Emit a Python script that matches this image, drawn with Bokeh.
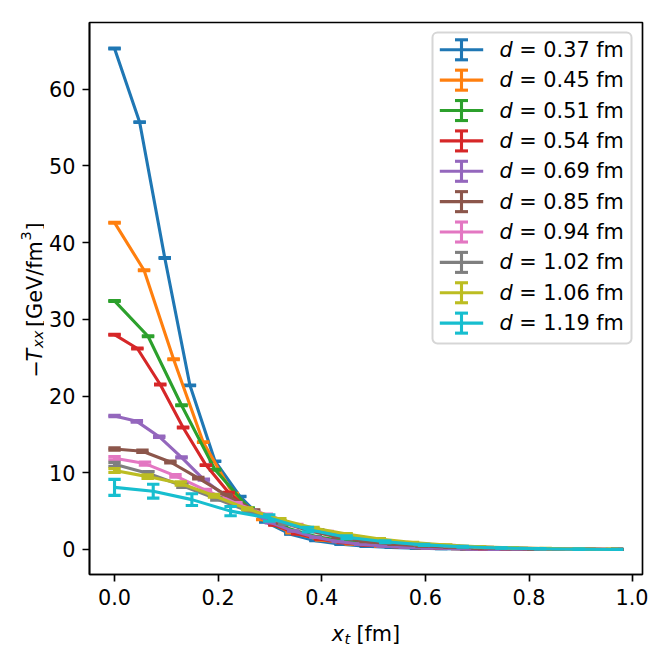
import math
import numpy as np
from bokeh.plotting import figure
from bokeh.layouts import row, column
from bokeh.models import Range1d, FixedTicker, Label, BoxAnnotation, ColumnDataSource
from bokeh.embed import file_html
from bokeh.resources import INLINE

# ---------------- data ----------------
d_values = ["0.37", "0.45", "0.51", "0.54", "0.69", "0.85", "0.94", "1.02", "1.06", "1.19"]
colors = ["#1f77b4", "#ff7f0e", "#2ca02c", "#d62728", "#9467bd",
          "#8c564b", "#e377c2", "#7f7f7f", "#bcbd22", "#17becf"]

x_037 = [0, 0.0485, 0.097, 0.1455, 0.194, 0.2425, 0.291, 0.3395, 0.388, 0.4365, 0.485,
         0.5335, 0.582, 0.6305, 0.679, 0.7275, 0.776, 0.8245, 0.873, 0.9215, 0.97]
y_037 = [65.3, 55.7, 38.0, 21.4, 11.5, 6.9, 3.6, 2.0, 1.15, 0.68, 0.42,
         0.26, 0.17, 0.11, 0.07, 0.05, 0.03, 0.02, 0.01, 0.005, 0.0]
e_037 = [0.05, 0.05, 0.05, 0.05, 0.04, 0.03, 0.03, 0.02, 0.02, 0.02, 0.01,
         0.01, 0.01, 0.01, 0.01, 0.01, 0.01, 0.01, 0.01, 0.01, 0.01]

x_045 = [0, 0.057, 0.114, 0.171, 0.228, 0.285, 0.342, 0.399, 0.456, 0.513, 0.570,
         0.627, 0.684, 0.741, 0.798, 0.855, 0.912, 0.969]
y_045 = [42.6, 36.4, 24.8, 14.0, 7.3, 3.9, 2.2, 1.25, 0.75, 0.45, 0.28,
         0.17, 0.11, 0.07, 0.04, 0.02, 0.01, 0.0]
e_045 = [0.06, 0.06, 0.05, 0.05, 0.04, 0.03, 0.03, 0.02, 0.02, 0.02, 0.01,
         0.01, 0.01, 0.01, 0.01, 0.01, 0.01, 0.01]

x_051 = [0, 0.0647, 0.1293, 0.194, 0.2587, 0.3233, 0.388, 0.4527, 0.5173, 0.582,
         0.6467, 0.7113, 0.776, 0.8407, 0.9053, 0.97]
y_051 = [32.4, 27.8, 18.8, 10.4, 5.4, 3.0, 1.7, 1.0, 0.6, 0.36,
         0.22, 0.14, 0.08, 0.05, 0.02, 0.0]
e_051 = [0.06, 0.06, 0.05, 0.05, 0.04, 0.03, 0.03, 0.02, 0.02, 0.02,
         0.01, 0.01, 0.01, 0.01, 0.01, 0.01]

x_054 = [0, 0.0441, 0.0882, 0.1323, 0.1764, 0.2205, 0.2645, 0.3086, 0.3527, 0.3968,
         0.4409, 0.485, 0.5291, 0.5732, 0.6173, 0.6614, 0.7055, 0.7495, 0.7936,
         0.8377, 0.8818, 0.9259, 0.97]
y_054 = [28.0, 26.2, 21.5, 15.9, 11.0, 7.4, 4.9, 3.2, 2.05, 1.35,
         0.9, 0.6, 0.4, 0.27, 0.18, 0.12, 0.08, 0.05, 0.03,
         0.02, 0.01, 0.005, 0.0]
e_054 = [0.06, 0.06, 0.06, 0.05, 0.05, 0.04, 0.03, 0.03, 0.02, 0.02,
         0.02, 0.01, 0.01, 0.01, 0.01, 0.01, 0.01, 0.01, 0.01,
         0.01, 0.01, 0.01, 0.01]

x_069 = [0, 0.0431, 0.0862, 0.1293, 0.1724, 0.2155, 0.2586, 0.3017, 0.3448, 0.3879,
         0.431, 0.4741, 0.5172, 0.5603, 0.6034, 0.6465, 0.6896, 0.7327, 0.7758,
         0.8189, 0.862, 0.9051, 0.9482]
y_069 = [17.4, 16.7, 14.7, 12.0, 9.1, 6.9, 5.0, 3.5, 2.4, 1.6,
         1.05, 0.7, 0.46, 0.3, 0.2, 0.13, 0.08, 0.05, 0.03,
         0.02, 0.01, 0.005, 0.0]
e_069 = [0.1, 0.1, 0.09, 0.08, 0.07, 0.06, 0.05, 0.04, 0.03, 0.03,
         0.02, 0.02, 0.02, 0.01, 0.01, 0.01, 0.01, 0.01, 0.01,
         0.01, 0.01, 0.01, 0.01]

x_085 = [0, 0.0539, 0.1078, 0.1617, 0.2156, 0.2694, 0.3233, 0.3772, 0.4311, 0.485,
         0.5389, 0.5928, 0.6467, 0.7006, 0.7544, 0.8083, 0.8622, 0.9161, 0.97]
y_085 = [13.1, 12.8, 11.4, 9.3, 7.1, 5.1, 3.5, 2.4, 1.6, 1.05,
         0.7, 0.45, 0.3, 0.19, 0.12, 0.07, 0.04, 0.02, 0.0]
e_085 = [0.15, 0.15, 0.13, 0.11, 0.09, 0.08, 0.06, 0.05, 0.04, 0.03,
         0.03, 0.02, 0.02, 0.02, 0.01, 0.01, 0.01, 0.01, 0.01]

x_094 = [0, 0.0588, 0.1176, 0.1764, 0.2352, 0.294, 0.3528, 0.4116, 0.4704, 0.5292,
         0.588, 0.6468, 0.7056, 0.7644, 0.8232, 0.882, 0.9408]
y_094 = [11.9, 11.2, 9.6, 7.7, 6.0, 4.5, 3.2, 2.3, 1.6, 1.1,
         0.75, 0.5, 0.32, 0.2, 0.12, 0.06, 0.02]
e_094 = [0.2, 0.2, 0.18, 0.15, 0.13, 0.11, 0.09, 0.07, 0.05, 0.04,
         0.03, 0.03, 0.02, 0.02, 0.01, 0.01, 0.01]

x_102 = [0, 0.0655, 0.131, 0.1965, 0.262, 0.3275, 0.393, 0.4585, 0.524, 0.5895,
         0.655, 0.7205, 0.786, 0.8515, 0.917]
y_102 = [11.1, 9.9, 8.3, 6.6, 4.9, 3.4, 2.5, 1.6, 1.0, 0.65,
         0.4, 0.25, 0.14, 0.07, 0.03]
e_102 = [0.25, 0.25, 0.22, 0.18, 0.15, 0.12, 0.1, 0.08, 0.06, 0.05,
         0.04, 0.03, 0.02, 0.02, 0.01]

x_106 = [0, 0.064, 0.128, 0.192, 0.256, 0.32, 0.384, 0.448, 0.512, 0.576,
         0.64, 0.704, 0.768, 0.832, 0.896, 0.96]
y_106 = [10.3, 9.5, 8.6, 7.0, 5.3, 3.9, 2.8, 2.0, 1.35, 0.9,
         0.58, 0.36, 0.22, 0.12, 0.06, 0.02]
e_106 = [0.25, 0.25, 0.22, 0.18, 0.15, 0.12, 0.1, 0.08, 0.06, 0.05,
         0.04, 0.03, 0.02, 0.02, 0.01, 0.01]

x_119 = [0, 0.0747, 0.1493, 0.224, 0.2986, 0.3733, 0.448, 0.5226, 0.5973, 0.672,
         0.7466, 0.8213, 0.896, 0.97]
y_119 = [8.1, 7.6, 6.5, 5.0, 4.1, 2.6, 1.6, 1.0, 0.6, 0.35,
         0.2, 0.1, 0.04, 0.0]
e_119 = [1.04, 0.9, 0.76, 0.6, 0.42, 0.3, 0.2, 0.12, 0.08, 0.05,
         0.03, 0.02, 0.01, 0.01]

series = [(x_037, y_037, e_037), (x_045, y_045, e_045), (x_051, y_051, e_051),
          (x_054, y_054, e_054), (x_069, y_069, e_069), (x_085, y_085, e_085),
          (x_094, y_094, e_094), (x_102, y_102, e_102), (x_106, y_106, e_106),
          (x_119, y_119, e_119)]

x_ticks = [0.0, 0.2, 0.4, 0.6, 0.8, 1.0]
x_tick_labels = ["0.0", "0.2", "0.4", "0.6", "0.8", "1.0"]
y_ticks = [0, 10, 20, 30, 40, 50, 60]

# ---------------- layout (page pixels) ----------------
W = 648
LEFT_W = 44            # strip holding the y label
MAIN_H = 615           # main figure height
BOT_H = 32             # strip holding the x label
FL, FR, FT, FB = 89, 642, 22, 574   # frame edges in page pixels
X0, X1 = -0.0483, 1.019
Y0, Y1 = -3.26, 68.69

FONT = "DejaVu Sans"
FS = "20.8px"
FS_SMALL = "14.6px"
LW = 3.1

main_w = W - LEFT_W
p = figure(width=main_w, height=MAIN_H, output_backend="svg", toolbar_location=None,
           x_range=Range1d(X0, X1), y_range=Range1d(Y0, Y1),
           min_border_left=FL - LEFT_W, min_border_right=W - FR,
           min_border_top=FT, min_border_bottom=MAIN_H - FB)
p.title.visible = False
p.grid.visible = False
p.background_fill_color = "white"
p.border_fill_color = "white"
p.outline_line_color = "black"
p.outline_line_width = 1.67

for ax in (p.xaxis[0], p.yaxis[0]):
    ax.axis_line_color = "black"
    ax.axis_line_width = 1.67
    ax.major_tick_line_color = "black"
    ax.major_tick_line_width = 1.67
    ax.major_tick_out = 7
    ax.major_tick_in = 0
    ax.minor_tick_out = 0
    ax.minor_tick_in = 0
    ax.major_label_text_font = FONT
    ax.major_label_text_font_size = FS
    ax.major_label_text_color = "black"
    ax.major_label_standoff = 7

p.xaxis.ticker = FixedTicker(ticks=x_ticks)
p.xaxis.major_label_overrides = {t: s for t, s in zip(x_ticks, x_tick_labels)}
p.yaxis.ticker = FixedTicker(ticks=y_ticks)

span_x = (X1 - X0) / (FR - FL)
span_y = (Y1 - Y0) / (FB - FT)


def xd(px):
    return X0 + (px - FL) * span_x


def yd(py):
    return Y1 - (py - FT) * span_y


CAP = 6.2 * span_x

# ---------------- data marks ----------------
for (xs, ys, es), c in zip(series, colors):
    xs = np.array(xs, dtype=float)
    ys = np.array(ys, dtype=float)
    es = np.array(es, dtype=float)
    src = ColumnDataSource(dict(x=xs, y=ys, lo=ys - es, hi=ys + es,
                                cl=xs - CAP, cr=xs + CAP))
    p.line("x", "y", source=src, line_color=c, line_width=LW, line_join="round")
    p.segment(x0="x", y0="lo", x1="x", y1="hi", source=src, line_color=c, line_width=LW)
    p.segment(x0="cl", y0="hi", x1="cr", y1="hi", source=src, line_color=c, line_width=LW)
    p.segment(x0="cl", y0="lo", x1="cr", y1="lo", source=src, line_color=c, line_width=LW)

# ---------------- legend ----------------
box = BoxAnnotation(left=xd(432), right=xd(631), top=yd(32), bottom=yd(343),
                    fill_color="white", fill_alpha=0.8, line_color="#cccccc",
                    line_alpha=0.8, line_width=2, border_radius=5)
p.add_layout(box)

hx0, hx1, hxc = 439.3, 482.7, 461.0
for i, (dv, c) in enumerate(zip(d_values, colors)):
    yc = 49.3 + 30.37 * i
    leg = ColumnDataSource(dict(
        x0=[xd(hx0), xd(hxc), xd(hxc - 6.5), xd(hxc - 6.5)],
        x1=[xd(hx1), xd(hxc), xd(hxc + 6.5), xd(hxc + 6.5)],
        y0=[yd(yc), yd(yc + 10), yd(yc + 10), yd(yc - 10)],
        y1=[yd(yc), yd(yc - 10), yd(yc + 10), yd(yc - 10)]))
    p.segment("x0", "y0", "x1", "y1", source=leg, line_color=c, line_width=LW,
              level="overlay")
    p.add_layout(Label(x=xd(499), y=yd(yc), text="d", text_font=FONT,
                       text_font_size=FS, text_font_style="italic",
                       text_baseline="middle", text_align="left", text_color="black"))
    p.add_layout(Label(x=xd(518.8), y=yd(yc), text="= " + dv + " fm", text_font=FONT,
                       text_font_size=FS, text_baseline="middle", text_align="left",
                       text_color="black"))


# ---------------- label strips ----------------
def strip(w, h, top=0, bottom=0):
    # frame spans page rows [top, h - bottom]; data y equals page y
    f = figure(width=w, height=h, output_backend="svg", toolbar_location=None,
               x_range=Range1d(0, w), y_range=Range1d(h - bottom, top),
               x_axis_type=None, y_axis_type=None, min_border=0,
               min_border_left=0, min_border_right=0, min_border_top=top,
               min_border_bottom=bottom)
    f.title.visible = False
    f.outline_line_color = None
    f.background_fill_color = "white"
    f.border_fill_color = "white"
    return f


# y label: -T_xx [GeV/fm^3], rotated to read upward
# (frame aligned with the main plot's frame: rows FT..FB)
ylab = strip(LEFT_W, MAIN_H, top=FT, bottom=MAIN_H - FB)
yb = 34.0
S = 377.0
ang = math.pi / 2
pieces = [
    ("\u2212", 0.0, 0.0, FS, "normal"),
    ("T", 16.0, 0.0, FS, "italic"),
    ("xx", 29.5, 3.2, FS_SMALL, "italic"),
    ("[GeV/fm", 50.5, 0.0, FS, "normal"),
    ("3", 137.0, -9.0, FS_SMALL, "normal"),
    ("]", 147.0, 0.0, FS, "normal"),
]
for txt, off, shift, fs, style in pieces:
    ylab.add_layout(Label(x=yb + shift, y=S - off, text=txt, angle=ang,
                          text_font=FONT, text_font_size=fs, text_font_style=style,
                          text_baseline="alphabetic", text_align="left",
                          text_color="black"))

# x label: x_t [fm]
xlab = strip(W, BOT_H)
xb = 633.0 - MAIN_H
xs0 = 331.3
xlab.add_layout(Label(x=xs0, y=xb, text="x", text_font=FONT, text_font_size=FS,
                      text_font_style="italic", text_baseline="alphabetic",
                      text_color="black"))
xlab.add_layout(Label(x=xs0 + 12.6, y=xb + 4.5, text="t", text_font=FONT,
                      text_font_size=FS_SMALL, text_font_style="italic",
                      text_baseline="alphabetic", text_color="black"))
xlab.add_layout(Label(x=xs0 + 24.6, y=xb, text="[fm]", text_font=FONT,
                      text_font_size=FS, text_baseline="alphabetic", text_color="black"))

layout = column(row(ylab, p, spacing=0), xlab, spacing=0)
open("out.html", "w").write(file_html(layout, INLINE))
